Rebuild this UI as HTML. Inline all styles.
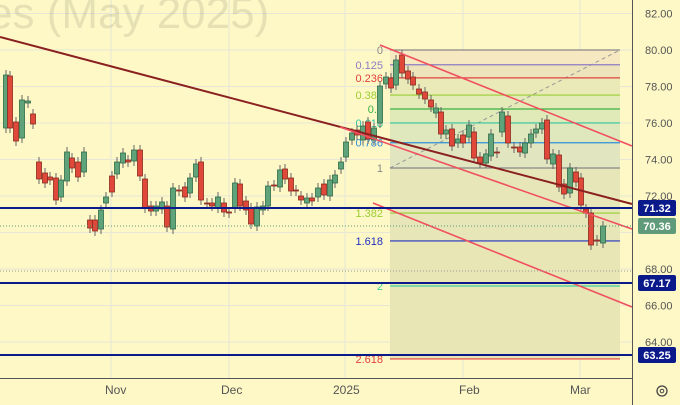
<!DOCTYPE html>
<html><head><meta charset="utf-8"><style>
body{margin:0;background:#fdf8c6;}
svg{display:block;font-family:"Liberation Sans",sans-serif;}
</style></head><body>
<svg id="s" width="680" height="405" xmlns="http://www.w3.org/2000/svg">
<rect width="680" height="405" fill="#fdf8c6"/>
<g id="grid" stroke="#e8e6d6" stroke-width="1"></g>
<text x="-12" y="28" font-size="44" fill="#000" fill-opacity="0.09">es (May 2025)</text>
<g id="fib"></g>
<g id="c"></g>
<g id="lines"></g>
<line x1="632.5" y1="0" x2="632.5" y2="405" stroke="#555" stroke-width="1"/>
<line x1="0" y1="378.5" x2="632" y2="378.5" stroke="#555" stroke-width="1"/>
<g font-size="12" fill="#555">
<text x="105" y="394">Nov</text><text x="221" y="394">Dec</text><text x="333" y="394">2025</text><text x="459" y="394">Feb</text><text x="570" y="394">Mar</text>
</g>
<g id="ax" font-size="11" fill="#555"></g>
<circle cx="662" cy="391" r="5" fill="none" stroke="#444" stroke-width="1.3"/><circle cx="662" cy="391" r="1.8" fill="none" stroke="#444"/>
</svg>
<script>
const NS="http://www.w3.org/2000/svg";
function el(p,t,a,txt){const e=document.createElementNS(NS,t);for(const k in a)e.setAttribute(k,a[k]);if(txt!==undefined)e.textContent=txt;document.getElementById(p).appendChild(e);return e;}
const Y=p=>50+(80-p)*18.25;
// grid
for(let p=64;p<=82;p+=2){el("grid","line",{x1:0,x2:632,y1:Y(p),y2:Y(p)});}
[111,229,345,463,580].forEach(x=>el("grid","line",{x1:x,x2:x,y1:0,y2:378}));
// axis labels
for(let p=64;p<=82;p+=2){if(p==70)continue;el("ax","text",{x:645,y:Y(p)+4},p.toFixed(2));}
// fib
const lv=[[0,"#888","0"],[0.125,"#8e7cc3","0.125"],[0.236,"#e04040","0.236"],[0.382,"#9acd32","0.382"],[0.5,"#3cb043","0.5"],[0.618,"#2fc4a0","0.618"],[0.786,"#2f8fd8","0.786"],[1,"#888","1"],[1.382,"#9acd32","1.382"],[1.618,"#2030c0","1.618"],[2,"#40d0a0","2"],[2.618,"#e04040","2.618"]];
const fy=l=>50+l*118;
const fills=["#f6e8c0","#eee4bc","#eaeab8","#e4eab8","#e0eab8","#dee8bc","#e2e6c0","#e6e6b8","#e6e6b8","#e8e6b4","#e8e6b4"];
for(let i=0;i<lv.length-1;i++)el("fib","rect",{x:390,y:fy(lv[i][0]),width:230,height:fy(lv[i+1][0])-fy(lv[i][0]),fill:fills[i]});
el("fib","line",{x1:390,y1:168,x2:620,y2:50,stroke:"#999","stroke-dasharray":"4,3"});
lv.forEach(([l,c,t])=>{const y=fy(l);el("fib","line",{x1:390,x2:620,y1:y,y2:y,stroke:c,"stroke-width":1.2});el("fib","text",{x:383,y:y+4,"text-anchor":"end","font-size":11,fill:c},t);});
// candles [x,open,close] y coords; green if close<open (y)
const C=[[6,128,75],[10,76,128],[16,122,141],[22,138,100],[28,103,101],[33,114,124],[39,162,179],[45,173,183],[50,177,180],[56,178,200],[61,197,180],[67,181,152],[72,158,168],[78,162,177],[84,172,152],[90,220,228],[95,220,231],[101,229,210],[106,203,197],[112,176,192],[117,174,162],[123,163,153],[128,160,162],[134,161,150],[140,150,176],[145,179,208],[151,206,211],[156,211,206],[162,209,202],[167,206,227],[173,229,188],[179,190,191],[185,187,197],[190,193,178],[196,177,164],[201,162,200],[207,203,204],[212,203,206],[218,208,197],[224,203,212],[229,212,213],[235,208,183],[240,184,206],[246,201,210],[251,208,224],[257,226,207],[263,210,206],[268,206,186],[274,185,186],[280,187,170],[285,169,179],[291,178,191],[296,190,191],[301,196,200],[307,203,198],[312,198,201],[318,197,188],[324,184,195],[330,196,180],[335,183,175],[341,169,162],[346,157,142],[352,140,133],[357,130,135],[363,140,126],[368,122,139],[374,140,128],[380,123,86],[386,84,77],[391,78,88],[396,85,60],[402,55,73],[408,71,79],[413,77,85],[419,89,94],[425,92,99],[431,100,107],[436,113,108],[441,112,134],[446,134,130],[452,129,146],[458,143,139],[463,135,143],[469,137,125],[474,132,158],[480,157,163],[486,163,154],[491,156,134],[497,152,153],[502,132,112],[508,116,143],[514,147,148],[520,147,152],[525,153,143],[531,143,134],[536,133,129],[542,129,123],[547,120,159],[553,164,154],[559,155,187],[564,184,194],[570,193,168],[576,172,182],[581,178,205],[586,209,213],[591,213,245],[597,240,241],[603,243,226]];
C.forEach(([x,o,c])=>{const g=c<o,t=Math.min(o,c),b=Math.max(o,c);
el("c","line",{x1:x,x2:x,y1:t-5,y2:b+5,stroke:"#666","stroke-width":1});
el("c","rect",{x:x-2.5,y:t,width:5,height:Math.max(1,b-t),fill:g?"#5fa37a":"#e0483a",stroke:g?"#2f6a48":"#8a2a20","stroke-width":0.8});});
// lines
el("lines","line",{x1:0,y1:37,x2:632,y2:204,stroke:"#8b2020","stroke-width":2});
el("lines","line",{x1:380,y1:45,x2:632,y2:146,stroke:"#f05060","stroke-width":1.6});
el("lines","line",{x1:340,y1:127,x2:632,y2:229,stroke:"#f05060","stroke-width":1.6});
el("lines","line",{x1:373,y1:203,x2:632,y2:307,stroke:"#f05060","stroke-width":1.6});
[208,283,355].forEach(y=>el("lines","line",{x1:0,x2:632,y1:y,y2:y,stroke:"#0a1a8a","stroke-width":2}));
el("lines","line",{x1:0,x2:632,y1:226,y2:226,stroke:"#5a9a7a","stroke-dasharray":"1,2"});
el("lines","line",{x1:0,x2:632,y1:271,y2:271,stroke:"#999","stroke-dasharray":"1,2"});
// price boxes
[[208,"71.32","#0a1a8a"],[226,"70.36","#5f9a7a"],[283,"67.17","#0a1a8a"],[355,"63.25","#0a1a8a"]].forEach(([y,t,c])=>{
el("ax","rect",{x:638,y:y-8,width:38,height:16,fill:c,rx:2});el("ax","text",{x:657,y:y+4,"text-anchor":"middle",fill:"#fff","font-weight":"bold"},t);});
</script>
</body></html>
